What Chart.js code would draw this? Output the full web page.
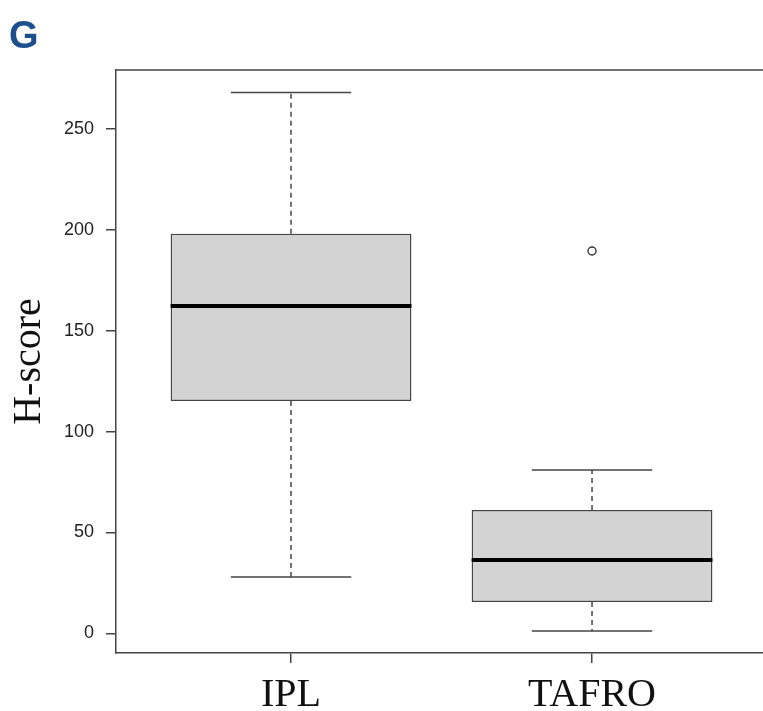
<!DOCTYPE html>
<html>
<head>
<meta charset="utf-8">
<script src="https://cdn.jsdelivr.net/npm/chart.js@4.4.1/dist/chart.umd.min.js"></script>
<style>
  html, body { margin: 0; padding: 0; background: #fff; overflow: hidden; }
  #wrap { position: relative; width: 763px; height: 711px; }
  #panel {
    position: absolute; left: 9px; top: 16px;
    font: bold 38px "Liberation Sans", Arial, sans-serif;
    line-height: 1; color: #1d4f8c;
  }
</style>
</head>
<body>
<div id="wrap">
  <canvas id="chart" width="763" height="711"></canvas>
  <div id="panel">G</div>
</div>
<script>
    // ---- data ----
    const groups    = ['IPL', 'TAFRO'];
    const groupX    = [1, 2];
    const whiskLow  = [28, 1.2];
    const q1        = [115.2, 15.6];
    const medians   = [162.3, 36.4];
    const q3        = [198, 61.2];
    const whiskHigh = [268, 81];
    const outliers  = [{ g: 2, v: 189.5 }];
    const yTicks    = [0, 50, 100, 150, 200, 250];

    const BOX_HALF = 0.4;
    const CAP_HALF = 0.2;
    const LINE = '#454545';

    // helpers: build segment lists separated by gaps
    function segments(list) {
        const out = [];
        list.forEach(([a, b], i) => {
            if (i > 0) out.push({ x: a.x, y: null });
            out.push(a, b);
        });
        return out;
    }

    const boxData = groupX.map((x, i) => ({ x, y: [q1[i], q3[i]] }));
    const medianData = segments(groupX.map((x, i) => [
        { x: x - BOX_HALF, y: medians[i] }, { x: x + BOX_HALF, y: medians[i] }
    ]));
    const whiskerData = segments(groupX.flatMap((x, i) => [
        [{ x, y: q3[i] }, { x, y: whiskHigh[i] }],
        [{ x, y: q1[i] }, { x, y: whiskLow[i] }]
    ]));
    const capData = segments(groupX.flatMap((x, i) => [
        [{ x: x - CAP_HALF, y: whiskHigh[i] }, { x: x + CAP_HALF, y: whiskHigh[i] }],
        [{ x: x - CAP_HALF, y: whiskLow[i] }, { x: x + CAP_HALF, y: whiskLow[i] }]
    ]));
    const outlierData = outliers.map(o => ({ x: o.g, y: o.v }));

    // top border of the R-style box around the plot
    const frameTop = {
        id: 'frameTop',
        afterDraw(chart) {
            const { ctx, chartArea } = chart;
            ctx.save();
            ctx.strokeStyle = LINE;
            ctx.lineWidth = 1.5;
            ctx.beginPath();
            ctx.moveTo(chartArea.left, chartArea.top);
            ctx.lineTo(chartArea.right, chartArea.top);
            ctx.stroke();
            ctx.restore();
        }
    };

    const lineBase = { type: 'line', pointRadius: 0, pointHoverRadius: 0, spanGaps: false, fill: false, tension: 0 };

    new Chart(document.getElementById('chart'), {
        type: 'bar',
        data: {
            datasets: [
                { ...lineBase, label: 'median', data: medianData, borderColor: '#000', borderWidth: 4, order: 0 },
                { ...lineBase, label: 'caps', data: capData, borderColor: LINE, borderWidth: 1.5, order: 1 },
                { ...lineBase, label: 'whiskers', data: whiskerData, borderColor: LINE, borderWidth: 1.5, borderDash: [5, 4], order: 1 },
                {
                    ...lineBase, label: 'outliers', data: outlierData, showLine: false,
                    pointRadius: 4, pointHoverRadius: 4, pointBorderWidth: 1.4, pointBorderColor: '#333',
                    pointBackgroundColor: 'rgba(0,0,0,0)', order: 0
                },
                {
                    type: 'bar', label: 'box', data: boxData,
                    backgroundColor: '#d3d3d3', borderColor: LINE, borderWidth: 1.5,
                    borderSkipped: false, barPercentage: 0.8, categoryPercentage: 1.0, order: 2
                }
            ]
        },
        options: {
            responsive: false,
            animation: false,
            layout: { autoPadding: false, padding: { top: 70, right: 0, left: 0, bottom: 0 } },
            plugins: { legend: { display: false }, tooltip: { enabled: false } },
            scales: {
                x: {
                    type: 'linear',
                    min: 0.4185,
                    max: 2.568,
                    offset: false,
                    afterFit(s) { s.height = 58; },
                    afterBuildTicks(s) { s.ticks = groupX.map(v => ({ value: v })); },
                    grid: { offset: false, drawOnChartArea: false, drawTicks: true, tickLength: 10, color: LINE, lineWidth: 1.5 },
                    border: { display: true, color: LINE, width: 1.5 },
                    ticks: {
                        padding: 8,
                        color: '#111',
                        font: { family: '"Liberation Serif", "Times New Roman", serif', size: 40 },
                        callback: v => groups[groupX.indexOf(v)] || ''
                    }
                },
                y: {
                    type: 'linear',
                    min: -9.7,
                    max: 279.2,
                    afterFit(s) { s.width = 116; },
                    afterBuildTicks(s) { s.ticks = yTicks.map(v => ({ value: v })); },
                    grid: { drawOnChartArea: false, drawTicks: true, tickLength: 10, color: LINE, lineWidth: 1.5 },
                    border: { display: true, color: LINE, width: 1.5 },
                    ticks: {
                        padding: 12,
                        color: '#222',
                        font: { family: '"Liberation Sans", Arial, sans-serif', size: 18 }
                    },
                    title: {
                        display: true,
                        text: 'H-score',
                        color: '#111',
                        padding: { top: 9, bottom: 0 },
                        font: { family: '"Liberation Serif", "Times New Roman", serif', size: 40, lineHeight: 1 }
                    }
                }
            }
        },
        plugins: [frameTop]
    });
</script>
</body>
</html>
